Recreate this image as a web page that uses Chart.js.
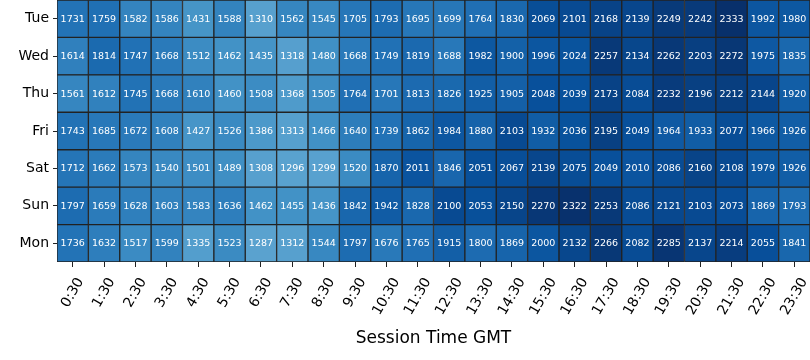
<!DOCTYPE html>
<html>
<head>
<meta charset="utf-8">
<script src="https://cdn.jsdelivr.net/npm/chart.js@4/dist/chart.umd.min.js"></script>
<style>
	html, body { margin: 0; padding: 0; background: #fff; }
	#wrap { width: 810px; height: 360px; }
</style>
</head>
<body>
<div id="wrap"><canvas id="chart" width="810" height="360"></canvas></div>
<script>
	// rows top to bottom, as in the picture
	var days = ['Tue', 'Wed', 'Thu', 'Fri', 'Sat', 'Sun', 'Mon'];
	var times = ['0:30', '1:30', '2:30', '3:30', '4:30', '5:30', '6:30', '7:30', '8:30', '9:30', '10:30', '11:30',
		'12:30', '13:30', '14:30', '15:30', '16:30', '17:30', '18:30', '19:30', '20:30', '21:30', '22:30', '23:30'];

	var tue = [1731, 1759, 1582, 1586, 1431, 1588, 1310, 1562, 1545, 1705, 1793, 1695, 1699, 1764, 1830, 2069, 2101, 2168, 2139, 2249, 2242, 2333, 1992, 1980];
	var wed = [1614, 1814, 1747, 1668, 1512, 1462, 1435, 1318, 1480, 1668, 1749, 1819, 1688, 1982, 1900, 1996, 2024, 2257, 2134, 2262, 2203, 2272, 1975, 1835];
	var thu = [1561, 1612, 1745, 1668, 1610, 1460, 1508, 1368, 1505, 1764, 1701, 1813, 1826, 1925, 1905, 2048, 2039, 2173, 2084, 2232, 2196, 2212, 2144, 1920];
	var fri = [1743, 1685, 1672, 1608, 1427, 1526, 1386, 1313, 1466, 1640, 1739, 1862, 1984, 1880, 2103, 1932, 2036, 2195, 2049, 1964, 1933, 2077, 1966, 1926];
	var sat = [1712, 1662, 1573, 1540, 1501, 1489, 1308, 1296, 1299, 1520, 1870, 2011, 1846, 2051, 2067, 2139, 2075, 2049, 2010, 2086, 2160, 2108, 1979, 1926];
	var sun = [1797, 1659, 1628, 1603, 1583, 1636, 1462, 1455, 1436, 1842, 1942, 1828, 2100, 2053, 2150, 2270, 2322, 2253, 2086, 2121, 2103, 2073, 1869, 1793];
	var mon = [1736, 1632, 1517, 1599, 1335, 1523, 1287, 1312, 1544, 1797, 1676, 1765, 1915, 1800, 1869, 2000, 2132, 2266, 2082, 2285, 2137, 2214, 2055, 1841];

	var rows = [tue, wed, thu, fri, sat, sun, mon];

	// matplotlib "Blues"
	var blues = [[247, 251, 255], [222, 235, 247], [198, 219, 239], [158, 202, 225], [107, 174, 214],
		[66, 146, 198], [33, 113, 181], [8, 81, 156], [8, 48, 107]];
	var vmax = Math.max.apply(null, rows.map(function (r) { return Math.max.apply(null, r); }));

	function blue(v) {
		var t = Math.min(1, Math.max(0, v / vmax)) * (blues.length - 1);
		var i = Math.min(blues.length - 2, Math.floor(t));
		var f = t - i;
		var c = blues[i].map(function (a, k) { return Math.round(a + (blues[i + 1][k] - a) * f); });
		return 'rgb(' + c.join(',') + ')';
	}

	var font = "'DejaVu Sans', sans-serif";

	// stacked from the bottom row up: Mon first
	var datasets = [];
	for (var r = rows.length - 1; r >= 0; r--) {
		datasets.push({
			label: days[r],
			values: rows[r],
			data: rows[r].map(function () { return 1; }),
			backgroundColor: rows[r].map(blue),
			borderColor: '#222',
			borderWidth: 1,
			borderSkipped: false,
			barPercentage: 1,
			categoryPercentage: 1
		});
	}

	var cellText = {
		id: 'cellText',
		afterDatasetsDraw: function (chart) {
			var ctx = chart.ctx;
			ctx.save();
			ctx.font = '9.5px ' + font;
			ctx.fillStyle = '#ffffff';
			ctx.textAlign = 'center';
			ctx.textBaseline = 'middle';
			chart.data.datasets.forEach(function (ds, di) {
				chart.getDatasetMeta(di).data.forEach(function (bar, i) {
					var p = bar.getCenterPoint();
					ctx.fillText(String(ds.values[i]), p.x, p.y + 0.5);
				});
			});
			ctx.restore();
		}
	};

	// rotated x labels, centred under the tick like matplotlib does
	var xLabels = {
		id: 'xLabels',
		afterDraw: function (chart) {
			var ctx = chart.ctx;
			var xs = chart.scales.x;
			var y0 = chart.chartArea.bottom + 13;
			var a = Math.PI / 3;
			ctx.save();
			ctx.font = '14px ' + font;
			ctx.fillStyle = '#000';
			ctx.textAlign = 'center';
			ctx.textBaseline = 'middle';
			times.forEach(function (t, i) {
				var x = xs.getPixelForTick(i);
				var w = ctx.measureText(t).width;
				var h = 16.4;
				var bh = w * Math.sin(a) + h * Math.cos(a);
				ctx.save();
				ctx.translate(x, y0 + bh / 2);
				ctx.rotate(-a);
				ctx.fillText(t, 0, 0);
				ctx.restore();
			});
			ctx.restore();
		}
	};

	new Chart(document.getElementById('chart'), {
		type: 'bar',
		data: { labels: times, datasets: datasets },
		options: {
			responsive: false,
			animation: false,
			layout: { padding: 0 },
			plugins: { legend: { display: false }, tooltip: { enabled: false } },
			scales: {
				x: {
					stacked: true,
					afterFit: function (s) {
						s.height = 98;
						s.paddingLeft = 0;
						s.paddingRight = 0;
					},
					border: { display: false },
					grid: { offset: false, drawOnChartArea: false, drawTicks: true, tickLength: 5, tickColor: '#222', lineWidth: 1 },
					ticks: { display: false },
					title: {
						display: true,
						text: 'Session Time GMT',
						color: '#000',
						font: { family: font, size: 17 },
						padding: { top: 0, bottom: 11 }
					}
				},
				y: {
					stacked: true,
					min: 0,
					max: days.length,
					afterFit: function (s) {
						s.width = 57;
						s.paddingTop = 0;
						s.paddingBottom = 0;
					},
					afterBuildTicks: function (s) {
						s.ticks = days.map(function (d, i) { return { value: i + 0.5 }; });
					},
					border: { display: false },
					grid: { drawOnChartArea: false, drawTicks: true, tickLength: 4, tickColor: '#222', lineWidth: 1 },
					ticks: {
						color: '#000',
						padding: 4,
						font: { family: font, size: 14 },
						callback: function (v) {
							return days[days.length - 1 - Math.floor(v)];
						}
					}
				}
			}
		},
		plugins: [cellText, xLabels]
	});
</script>
</body>
</html>
